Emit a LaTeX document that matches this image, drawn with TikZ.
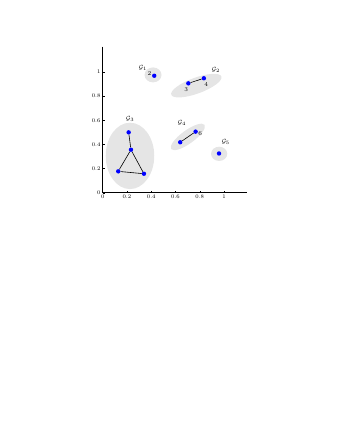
\documentclass[tikz,border=0pt]{standalone}
\begin{document}
\begin{tikzpicture}[x=121.3pt,y=120.7pt,
  grp/.style={fill=black!10},
  vtx/.style={circle,fill=blue,inner sep=0pt,minimum size=4.4pt},
  edge/.style={draw=black,line width=0.6pt},
  glab/.style={font=\fontsize{6.5}{7}\selectfont,inner sep=0pt},
  nlab/.style={font=\fontsize{6}{7}\selectfont,inner sep=0pt},
  ticklab/.style={font=\fontsize{5.5}{6}\selectfont,inner sep=0pt},
  axisline/.style={draw=black,line width=0.5pt}]
\useasboundingbox (-102.7pt,-255.3pt) rectangle (243.3pt,192.7pt);
% group shading
\fill[grp] (0.415,0.976) ellipse (0.07 and 0.062);
\fill[grp,rotate around={20:(0.772,0.887)}] (0.772,0.887) ellipse (0.22 and 0.066);
\fill[grp] (0.225,0.305) ellipse (0.2 and 0.275);
\fill[grp,rotate around={36:(0.702,0.462)}] (0.702,0.462) ellipse (0.17 and 0.055);
\fill[grp] (0.96,0.322) ellipse (0.067 and 0.059);
% axes
\coordinate (ytop) at (0,1.21);
\coordinate (orig) at (0,0);
\coordinate (xend) at (1.19,0);
\draw[axisline] (ytop) -- (orig) -- (xend);
\foreach \t/\l in {0/0,0.2/0.2,0.4/0.4,0.6/0.6,0.8/0.8,1/1}{
  \draw[line width=0.4pt] (\t,0) -- ++(0,2pt);
  \draw[line width=0.4pt] (0,\t) -- ++(2pt,0);
  \node[ticklab,anchor=north] at (\t,-2.2pt) {\l};
  \node[ticklab,anchor=east] at (-2pt,\t) {\l};
}
% vertices
\node[vtx] (v2) at (0.425,0.969) {};
\node[vtx] (v3) at (0.706,0.906) {};
\node[vtx] (v4) at (0.834,0.948) {};
\node[vtx] (a1) at (0.214,0.500) {};
\node[vtx] (a2) at (0.233,0.356) {};
\node[vtx] (a3) at (0.128,0.177) {};
\node[vtx] (a4) at (0.340,0.157) {};
\node[vtx] (v5) at (0.639,0.418) {};
\node[vtx] (v6) at (0.766,0.506) {};
\node[vtx] (v7) at (0.959,0.325) {};
% edges
\draw[edge] (v3) -- (v4);
\draw[edge] (a1) -- (a2);
\draw[edge] (a2) -- (a3);
\draw[edge] (a2) -- (a4);
\draw[edge] (a3) -- (a4);
\draw[edge] (v5) -- (v6);
% labels
\node[nlab] (l2) at (0.385,0.984) {2};
\node[nlab] (l3) at (0.688,0.857) {3};
\node[nlab] (l4) at (0.853,0.898) {4};
\node[nlab] (l6) at (0.803,0.493) {6};
\node[glab] (g1) at (0.33,1.036) {$\mathcal{G}_1$};
\node[glab] (g2) at (0.932,1.017) {$\mathcal{G}_2$};
\node[glab] (g3) at (0.225,0.612) {$\mathcal{G}_3$};
\node[glab] (g4) at (0.653,0.58) {$\mathcal{G}_4$};
\node[glab] (g5) at (1.014,0.418) {$\mathcal{G}_5$};
\end{tikzpicture}
\end{document}
